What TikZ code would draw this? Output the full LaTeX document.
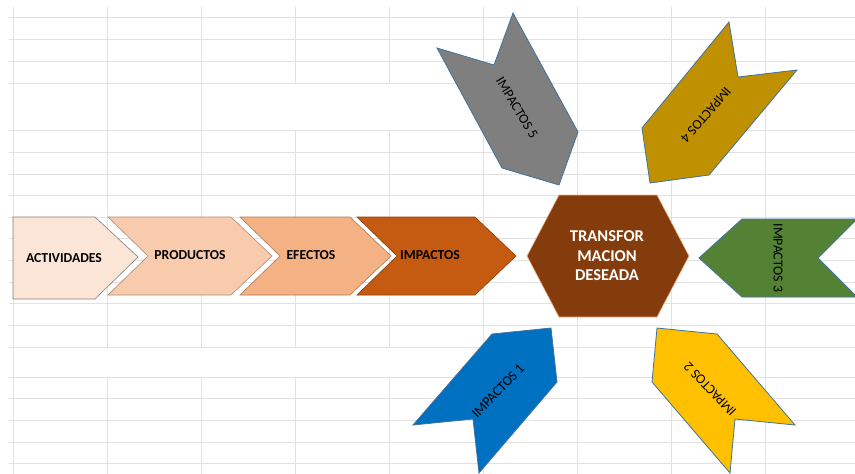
\documentclass[tikz,border=0pt]{standalone}
\usepackage{fontspec}
\setmainfont{Carlito}
\usetikzlibrary{positioning}
\definecolor{gridgray}{RGB}{226,226,226}
\definecolor{actfill}{RGB}{251,229,214}
\definecolor{prodfill}{RGB}{248,203,173}
\definecolor{efffill}{RGB}{244,177,131}
\definecolor{impfill}{RGB}{197,90,17}
\definecolor{hexfill}{RGB}{132,60,12}
\definecolor{edgeblue}{RGB}{65,113,156}
\definecolor{grayfill}{RGB}{127,127,127}
\definecolor{goldfill}{RGB}{191,144,0}
\definecolor{greenfill}{RGB}{84,130,53}
\definecolor{bluefill}{RGB}{0,112,192}
\definecolor{yellowfill}{RGB}{255,192,0}

\begin{document}
\begin{tikzpicture}[x=1pt, y=-1pt,
  chevron/.style={draw=#1!70!black, line width=0.6pt, fill=#1, line join=miter},
  impact/.style={draw=edgeblue, line width=0.8pt, fill=#1, line join=miter},
  boxtext/.style={font=\fontsize{13.7}{16}\selectfont\bfseries, text=black, inner sep=0pt},
  impacttext/.style={font=\fontsize{13.8}{16}\selectfont, text=black, inner sep=0pt}]
  \clip (0,0) rectangle (855,474);
  \fill[white] (0,0) rectangle (855,474);
  % sheet grid
  \foreach \y in {17,39,61,83,130,152,174,195,217,238,260,282,303,325,347,377,398,420,442,463}
    \draw[gridgray, line width=0.8pt] (9,\y) -- (855,\y);
  \foreach \x in {13,483,577,671,765}
    \draw[gridgray, line width=0.8pt] (\x,7) -- (\x,474);
  \foreach \x in {107,201}
    \draw[gridgray, line width=0.8pt] (\x,7) -- (\x,347) (\x,377) -- (\x,474);
  \foreach \x in {295,389}
    \draw[gridgray, line width=0.8pt] (\x,7) -- (\x,83) (\x,130) -- (\x,347) (\x,377) -- (\x,474);

  % chain of chevrons
  \draw[chevron=actfill, draw=black!50] (13,217) -- (95,217) -- (138,257) -- (95,299) -- (13,299) -- cycle;
  \node[boxtext] (act) at (64,258) {ACTIVIDADES};
  \foreach \l/\r/\col/\tx/\nm/\txt in {108/231/prodfill/190/prod/PRODUCTOS, 240/350/efffill/311/eff/EFECTOS, 357/475/impfill/430/imp/IMPACTOS} {
    \draw[chevron=\col] (\l,217) -- (\r,217) -- ({\r+41},256) -- (\r,295) -- (\l,295) -- ({\l+40},256) -- cycle;
    \node[boxtext] (\nm) at (\tx,255) {\txt};
  }

  % desired transformation
  \draw[fill=hexfill, draw=efffill, line width=0.6pt] (527,256) -- (559,195) -- (657,195) -- (689,256) -- (657,317) -- (559,317) -- cycle;
  \node[font=\fontsize{16.5}{19.5}\selectfont\bfseries, text=white, align=center, inner sep=0pt] (goal) at (607,256) {TRANSFOR\\MACION\\DESEADA};

  % impacts around
  \draw[impact=bluefill] (551,328) -- (557,382) -- (479,473) -- (473,419) -- (413,425) -- (492,334) -- cycle;
  \node[impacttext, rotate=46] (imp1) at (498,391) {IMPACTOS 1};
  \draw[impact=yellowfill] (657,328) -- (717,334) -- (795,425) -- (735,419) -- (730,473) -- (652,382) -- cycle;
  \node[impacttext, rotate=134] (imp2) at (710,389) {IMPACTOS 2};
  \draw[impact=greenfill] (699,258) -- (742,219) -- (857,219) -- (818,258) -- (857,297) -- (742,297) -- cycle;
  \node[impacttext, rotate=-90] (imp3) at (778,258) {IMPACTOS 3};
  \draw[impact=goldfill] (729,22) -- (738,77) -- (797,70) -- (709,175) -- (650,183) -- (642,128) -- cycle;
  \node[impacttext, rotate=-131] (imp4) at (706,115) {IMPACTOS 4};
  \draw[impact=grayfill] (559,185) -- (502,168) -- (437,48) -- (494,65) -- (513,13) -- (578,132) -- cycle;
  \node[impacttext, rotate=-59] (imp5) at (517,108) {IMPACTOS 5};
\end{tikzpicture}
\end{document}
